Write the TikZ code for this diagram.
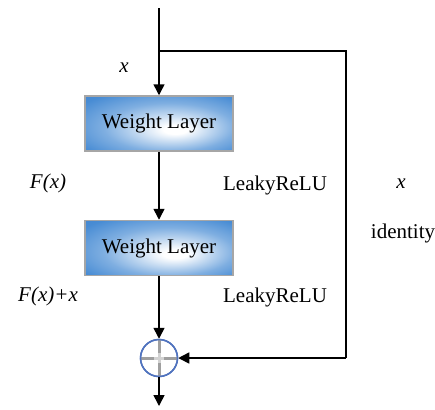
\documentclass[tikz,border=0pt]{standalone}
\usepackage{fontspec}
\setmainfont{Liberation Serif}
\newfontfamily\timesfont{Liberation Serif}
\usetikzlibrary{arrows.meta}
\definecolor{layerblue}{RGB}{72,140,212}
\definecolor{layerblueD}{RGB}{58,124,200}
\definecolor{ringblue}{RGB}{80,115,190}
\pgfdeclareradialshading{layershade}{\pgfpoint{6bp}{-6bp}}{%
  color(0bp)=(white); color(4bp)=(white); color(22bp)=(layerblue!70!white);
  color(34bp)=(layerblue); color(50bp)=(layerblueD)}
\begin{document}
\begin{tikzpicture}[x=1bp,y=-1bp,
  layer/.style={draw=gray!70,line width=1.5bp,shading=layershade,
    minimum width=148bp,minimum height=55bp,inner sep=0pt,
    font=\timesfont\fontsize{21bp}{24bp}\selectfont},
  lbl/.style={font=\timesfont\fontsize{21bp}{24bp}\selectfont,inner sep=0pt},
  ilbl/.style={inner sep=0pt,font=\timesfont\fontsize{21bp}{24bp}\selectfont\itshape},
  flow/.style={line width=1.5bp,-{Triangle[length=11bp,width=11bp]}},
  wire/.style={line width=1.5bp}]
\useasboundingbox (0,0) rectangle (435,409);

% two weight layers
\node[layer] (w1) at (159,123.5) {Weight Layer};
\node[layer] (w2) at (159,248) {Weight Layer};

% summation node
\node[circle,draw=ringblue,line width=1.5bp,fill=white,minimum size=37bp,inner sep=0pt] (sum) at (159,358) {};
\draw[line width=3bp,gray!75] (sum.west) -- (sum.east);
\draw[line width=3bp,gray!75] (sum.north) -- (sum.south);
\draw[line width=3bp,gray!35] ([xshift=-5bp]sum.center) -- ([xshift=5bp]sum.center);
\draw[line width=3bp,gray!35] ([yshift=-5bp]sum.center) -- ([yshift=5bp]sum.center);
\node[circle,draw=ringblue,line width=1.5bp,minimum size=37bp,inner sep=0pt] at (sum) {};

% coordinates of the input line and the shortcut
\coordinate (in) at (159,8);
\coordinate (split) at (159,51);
\coordinate (tr) at (346,51);
\coordinate (br) at (346,358);
\coordinate (out) at (159,406);

% connectors
\draw[flow] (in) -- (w1.north);
\draw[wire] (split) -- (tr) -- (br);
\draw[flow] (br) -- (sum.east);
\draw[flow] (w1.south) -- (w2.north);
\draw[flow] (w2.south) -- (sum.north);
\draw[flow] (sum.south) -- (out);

% labels
\node[ilbl] (lx) at (124,68) {x};
\node[ilbl] (lf) at (48,183) {F(x)};
\node[ilbl] (lfx) at (48,296) {F(x)+x};
\node[lbl] (r1) at (275,185) {LeakyReLU};
\node[lbl] (r2) at (275,297) {LeakyReLU};
\node[ilbl] (sx) at (401,184) {x};
\node[lbl] (id) at (403,233) {identity};
\end{tikzpicture}
\end{document}
